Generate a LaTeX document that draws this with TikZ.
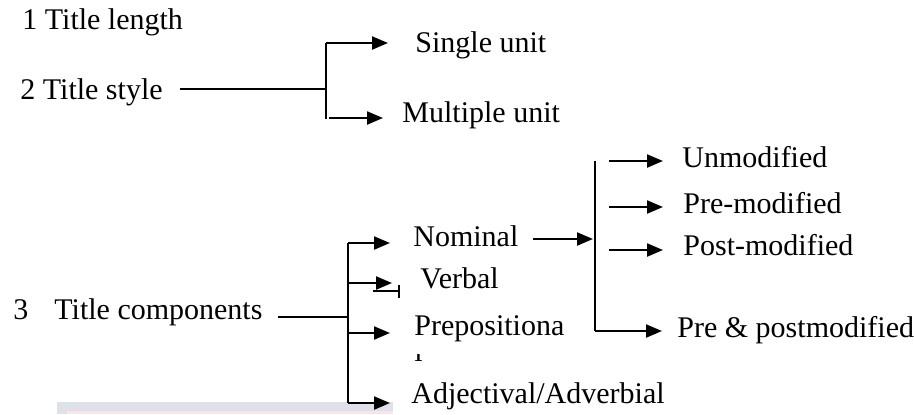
\documentclass[tikz,border=0pt]{standalone}
\usepackage{fontspec}
\setmainfont{Liberation Serif}
\usetikzlibrary{arrows.meta}

\definecolor{bandgray}{RGB}{222,224,234}
\definecolor{bandpink}{RGB}{250,228,232}

\begin{document}
\begin{tikzpicture}[x=0.5pt,y=-0.5pt,>={Triangle[length=8pt,width=6.5pt]},
    word/.style={anchor=base west,inner sep=0pt,font=\fontsize{15}{18}\selectfont},
    bracket/.style={line width=1.1pt}, feed/.style={line width=0.6pt}]

  \useasboundingbox (0,0) rectangle (914,414);

  % pale strip along the bottom edge
  \fill[bandgray] (57,402) rectangle (393,414);
  \fill[bandpink] (67,411) rectangle (393,414);

  \node[word] (length) at (22,29) {1 Title length};
  \node[word] (style) at (20,99) {2 Title style};
  \node[word] (comp) at (13,319) {3\hspace{13pt}Title components};

  \node[word] (single) at (415,52) {Single unit};
  \node[word] (multiple) at (402,122) {Multiple unit};

  \node[word] (nom) at (413,246) {Nominal};
  \node[word] (verb) at (420,288) {Verbal};
  \node[word] (prep) at (414,335) {Prepositiona};
  \begin{scope}
    \clip (405,354) rectangle (430,366);
    \node[word] (prep tail) at (414,361) {l};
  \end{scope}
  \node[word] (adj) at (411,403) {Adjectival/Adverbial};

  \node[word] (unmod) at (682,167) {Unmodified};
  \node[word] (premod) at (683,213) {Pre-modified};
  \node[word] (postmod) at (683,255) {Post-modified};
  \node[word] (prepost) at (677,337) {Pre \& postmodified};

  % title style
  \coordinate (s in) at (180,89);
  \coordinate (s top) at (326,43);
  \coordinate (s mid) at (326,89);
  \coordinate (s bot) at (326,119);
  \coordinate (s low) at (329,118);
  \draw[feed] (s in) -- (s mid);
  \draw[bracket] (s top) -- (s bot);
  \draw[bracket,->,shorten >=13.5pt] (s top) -- (s top -| single.west);
  \draw[bracket,->,shorten >=9.5pt] (s low) -- (s low -| multiple.west);

  % title components
  \coordinate (c in) at (278,317);
  \coordinate (c mid) at (348,317);
  \coordinate (c nom) at (348,243);
  \coordinate (c verb) at (348,283);
  \coordinate (c prep) at (348,333);
  \coordinate (c adj) at (348,403);
  \draw[feed] (c in) -- (c mid);
  \draw[bracket] (c nom) -- (c adj);
  \draw[bracket,->,shorten >=11.5pt] (c nom) -- (c nom -| nom.west);
  \draw[bracket,->,shorten >=14pt] (c verb) -- (c verb -| verb.west);
  \draw[bracket,->,shorten >=12pt] (c prep) -- (c prep -| prep.west);
  \draw[bracket,->,shorten >=10.5pt] (c adj) -- (c adj -| adj.west);
  \coordinate (vb from) at (373,291);
  \coordinate (vb to) at (400,291);
  \draw[bracket,-{Bar[width=6.5pt]}] (vb from) -- (vb to);

  % nominal
  \coordinate (n in) at (533,239);
  \coordinate (n mid) at (595,239);
  \coordinate (n top) at (595,161);
  \coordinate (n bot) at (595,331);
  \draw[bracket,->,shorten >=1pt] (n in) -- (n mid);
  \draw[bracket] (n top) -- (n bot);
  \draw[bracket,->,shorten >=9.5pt,shorten <=7pt] (n top) -- (n top -| unmod.west);
  \draw[bracket,->,shorten >=10pt,shorten <=7pt] (n top |- 0,207) -- (premod.west |- 0,207);
  \draw[bracket,->,shorten >=10pt,shorten <=7pt] (n top |- 0,250) -- (postmod.west |- 0,250);
  \draw[bracket,->,shorten >=7.5pt] (n bot) -- (n bot -| prepost.west);

\end{tikzpicture}
\end{document}
